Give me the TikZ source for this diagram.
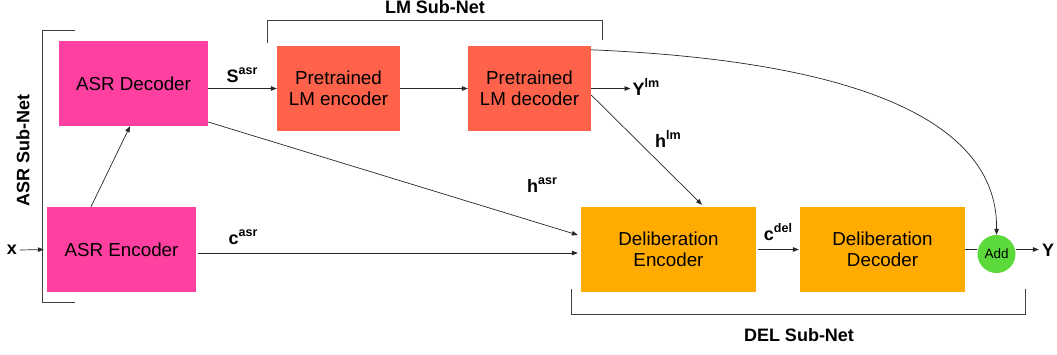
\documentclass[tikz,border=0pt]{standalone}
\usepackage{fontspec}
\setmainfont{Liberation Sans}
\usetikzlibrary{arrows.meta}
\definecolor{asrpink}{HTML}{FF40A0}
\definecolor{lmred}{HTML}{FF624A}
\definecolor{delorange}{HTML}{FFAB00}
\definecolor{addgreen}{HTML}{5CD93B}
\newcommand{\lblsup}[2]{#1\raisebox{0.42em}{\fontsize{12.5}{12}\selectfont\bfseries #2}}
\begin{document}
\begin{tikzpicture}[x=1pt,y=-1pt,
 box/.style={draw=none, inner sep=0pt, align=center, font=\fontsize{18.8}{21.5}\selectfont},
 arr/.style={-{Triangle[length=6pt,width=4.5pt]}, line width=0.7pt, draw=black!85},
 ln/.style={line width=0.7pt, draw=black!85},
 lbl/.style={font=\fontsize{18}{20}\selectfont\bfseries, inner sep=0pt},
 brk/.style={line width=0.9pt, draw=black!75}]
\useasboundingbox (0,0) rectangle (1057,354);

% boxes
\node[box, fill=asrpink, minimum width=149pt, minimum height=85pt] (asrdec) at (133.5,83.5) {ASR Decoder};
\node[box, fill=asrpink, minimum width=149pt, minimum height=85pt] (asrenc) at (121.5,249.5) {ASR Encoder};
\node[box, fill=lmred, minimum width=123pt, minimum height=85pt] (lmenc) at (338.5,88.5) {Pretrained\\LM encoder};
\node[box, fill=lmred, minimum width=123pt, minimum height=85pt] (lmdec) at (529.5,88.5) {Pretrained\\LM decoder};
\node[box, fill=delorange, minimum width=175pt, minimum height=85pt] (delenc) at (668.5,249.5) {Deliberation\\Encoder};
\node[box, fill=delorange, minimum width=165pt, minimum height=85pt] (deldec) at (882.5,249.5) {Deliberation\\Decoder};
\node[circle, fill=addgreen, minimum size=38pt, inner sep=0pt, font=\fontsize{13.5}{14}\selectfont] (add) at (996.5,254) {Add};

% labels
\node[lbl] (x) at (12,250) {x};
\node[lbl] (y) at (1048,250) {Y};
\node[lbl] (ylm) at (646,87) {\lblsup{Y}{lm}};
\node[lbl] (sasr) at (242,75) {\lblsup{S}{asr}};
\node[lbl] (casr) at (243,237) {\lblsup{c}{asr}};
\node[lbl] (hasr) at (542,185) {\lblsup{h}{asr}};
\node[lbl] (hlm) at (668,139) {\lblsup{h}{lm}};
\node[lbl] (cdel) at (778,232) {\lblsup{c}{del}};
\node[lbl] (lmsub) at (435,7) {LM Sub-Net};
\node[lbl] (delsub) at (799,335) {DEL Sub-Net};
\node[lbl, rotate=90] (asrsub) at (23,150) {ASR Sub-Net};

% brackets
\draw[brk] (75,30) -- (42,30) -- (42,302) -- (75,302);
\draw[brk] (267,43) -- (267,20) -- (602,20) -- (602,40);
\draw[brk] (571,289) -- (571,314) -- (1025,314) -- (1025,289);

% connectors
\draw[arr] (x.east) ++(3pt,0) -- ([xshift=-3pt]asrenc.west);
\draw[arr] ([xshift=-30.5pt]asrenc.north) -- ([xshift=-3.5pt]asrdec.south);
\draw[arr] (asrdec.east |- lmenc.west) -- (lmenc.west);
\draw[arr] (lmenc.east) -- (lmdec.west);
\draw[arr] (lmdec.east) -- ([xshift=-2pt]ylm.west |- lmdec.east);
\draw[arr] ([yshift=-6.5pt]lmdec.east) -- ([xshift=33.5pt,yshift=2pt]delenc.north);
\draw[arr] ([yshift=-38.5pt]asrdec.east) -- ([xshift=-3pt,yshift=14.5pt]delenc.west);
\draw[arr] ([xshift=2pt,yshift=-3.5pt]asrenc.east) -- ([xshift=-3pt,yshift=-3.5pt]delenc.west);
\draw[arr] ([xshift=2pt]delenc.east) -- ([xshift=-1pt]deldec.west);
\draw[ln] (deldec.east) -- (deldec.east -| add.west);
\draw[arr] (add.east |- deldec.east) -- ([xshift=-3pt]y.west |- deldec.east);
\draw[arr] ([yshift=-4pt]lmdec.north east) .. controls (880,62) and (998,130) .. (add.north);
\end{tikzpicture}
\end{document}
